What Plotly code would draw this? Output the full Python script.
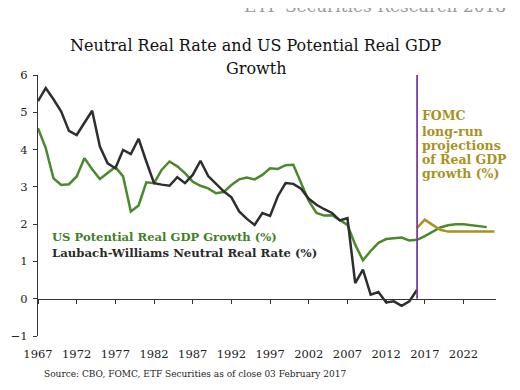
import plotly.graph_objects as go

years_hist = list(range(1967, 2017))
neutral_rate = [5.30, 5.65, 5.35, 5.02, 4.50, 4.39, 4.72, 5.04, 4.08, 3.63,
                3.50, 3.99, 3.88, 4.29, 3.68, 3.10, 3.06, 3.03, 3.26, 3.10,
                3.32, 3.70, 3.29, 3.08, 2.88, 2.72, 2.34, 2.14, 1.98, 2.30,
                2.22, 2.75, 3.10, 3.08, 2.95, 2.68, 2.52, 2.40, 2.30, 2.10,
                2.16, 0.42, 0.78, 0.11, 0.18, -0.10, -0.07, -0.19, -0.07, 0.24]

years_gdp = list(range(1967, 2026))
potential_gdp = [4.57, 4.04, 3.23, 3.05, 3.07, 3.28, 3.77, 3.47, 3.21, 3.37,
                 3.53, 3.28, 2.34, 2.50, 3.12, 3.10, 3.46, 3.68, 3.55, 3.37,
                 3.14, 3.03, 2.96, 2.83, 2.86, 3.05, 3.20, 3.25, 3.20, 3.32,
                 3.50, 3.48, 3.58, 3.59, 3.10, 2.62, 2.30, 2.23, 2.24, 2.12,
                 1.98, 1.45, 1.03, 1.28, 1.50, 1.60, 1.63, 1.64, 1.56, 1.58,
                 1.68, 1.80, 1.91, 1.97, 2.00, 2.00, 1.98, 1.95, 1.92]

years_fomc = list(range(2016, 2027))
fomc_proj = [1.90, 2.12, 1.98, 1.85, 1.80, 1.80, 1.80, 1.80, 1.80, 1.80, 1.80]

divider_year = [2016, 2016]
divider_range = [0, 6]

tick_years = list(range(1967, 2027, 5))

GREEN = "#4A8A2C"
BLACK = "#2E2E2E"
GOLD = "#A8921F"
PURPLE = "#7A3CA2"
SERIF = "DejaVu Serif"

# page body has an 8px margin; plot area target: x 38..496, y 75..336 (window px)
W, H = 512, 382
L, T = 30, 67
R = W - (496 - 8)
B = H - (336 - 8)
PW, PH = 496 - 38, 336 - 75


def px(x):
    return (x - 38) / PW


def py(y):
    return (336 - y) / PH


fig = go.Figure()
fig.add_trace(go.Scatter(x=years_gdp, y=potential_gdp, mode="lines",
                         line=dict(color=GREEN, width=2.5), xaxis="x"))
fig.add_trace(go.Scatter(x=years_fomc, y=fomc_proj, mode="lines",
                         line=dict(color=GOLD, width=2.5), xaxis="x"))
fig.add_trace(go.Scatter(x=years_hist, y=neutral_rate, mode="lines",
                         line=dict(color=BLACK, width=2.5), xaxis="x"))
fig.add_trace(go.Scatter(x=divider_year, y=divider_range, mode="lines",
                         line=dict(color=PURPLE, width=1.8), xaxis="x2"))

xr = [1967, 2026.2]
fig.update_layout(
    width=W, height=H,
    margin=dict(l=L, r=R, t=T, b=B, pad=0),
    paper_bgcolor="white", plot_bgcolor="white",
    showlegend=False,
    font=dict(family=SERIF, color="#222"),
    xaxis=dict(range=xr, tickmode="array", tickvals=tick_years,
               ticktext=[str(t) for t in tick_years], automargin=False,
               showline=False, showgrid=False, zeroline=False, ticks="",
               ticklabelstandoff=9,
               tickfont=dict(size=11.5, color="#222", family=SERIF)),
    xaxis2=dict(range=xr, overlaying="x", anchor="free", position=1/7,
                tickmode="array", tickvals=tick_years, showticklabels=False,
                showline=True, linecolor="#333", linewidth=1.2, automargin=False,
                ticks="outside", ticklen=4, tickcolor="#333",
                showgrid=False, zeroline=False),
    yaxis=dict(range=[-1, 6], dtick=1, showline=True, linecolor="#333",
               linewidth=1.2, ticks="outside", ticklen=4, tickcolor="#333",
               showgrid=False, zeroline=False, automargin=False,
               ticklabelstandoff=3,
               tickfont=dict(size=11.5, color="#222", family=SERIF)),
)

fig.add_annotation(text="Neutral Real Rate and US Potential Real GDP",
                   xref="paper", yref="paper", x=px(256), y=py(46),
                   showarrow=False, xanchor="center", yanchor="middle",
                   font=dict(size=16, color="#111", family=SERIF))
fig.add_annotation(text="Growth",
                   xref="paper", yref="paper", x=px(256), y=py(68),
                   showarrow=False, xanchor="center", yanchor="middle",
                   font=dict(size=16, color="#111", family=SERIF))
fig.add_annotation(text="ETF Securities Research 2018",
                   xref="paper", yref="paper", x=px(508), y=py(6),
                   showarrow=False, xanchor="right", yanchor="middle",
                   font=dict(size=17, color="#9a9a9a", family=SERIF))
fig.add_annotation(text="<b>US Potential Real GDP Growth (%)</b>",
                   xref="paper", yref="paper", x=px(50), y=py(237),
                   showarrow=False, xanchor="left", yanchor="middle",
                   font=dict(size=11.6, color="#3F7F28", family=SERIF))
fig.add_annotation(text="<b>Laubach-Williams Neutral Real Rate (%)</b>",
                   xref="paper", yref="paper", x=px(50), y=py(253),
                   showarrow=False, xanchor="left", yanchor="middle",
                   font=dict(size=11.7, color="#2A2A2A", family=SERIF))
fomc_lines = ["FOMC", "long-run", "projections", "of Real GDP", "growth (%)"]
fomc_y = [115, 131, 145.5, 159.5, 173.5]
for txt, yy in zip(fomc_lines, fomc_y):
    fig.add_annotation(text="<b>" + txt + "</b>", xref="paper", yref="paper",
                       x=px(420), y=py(yy), showarrow=False,
                       xanchor="left", yanchor="middle",
                       font=dict(size=12.5, color=GOLD, family=SERIF))
fig.add_annotation(text="Source: CBO, FOMC, ETF Securities as of close 03 February 2017",
                   xref="paper", yref="paper", x=px(42), y=py(374),
                   showarrow=False, xanchor="left", yanchor="middle",
                   font=dict(size=9, color="#222", family=SERIF))

fig.write_html("out.html")
